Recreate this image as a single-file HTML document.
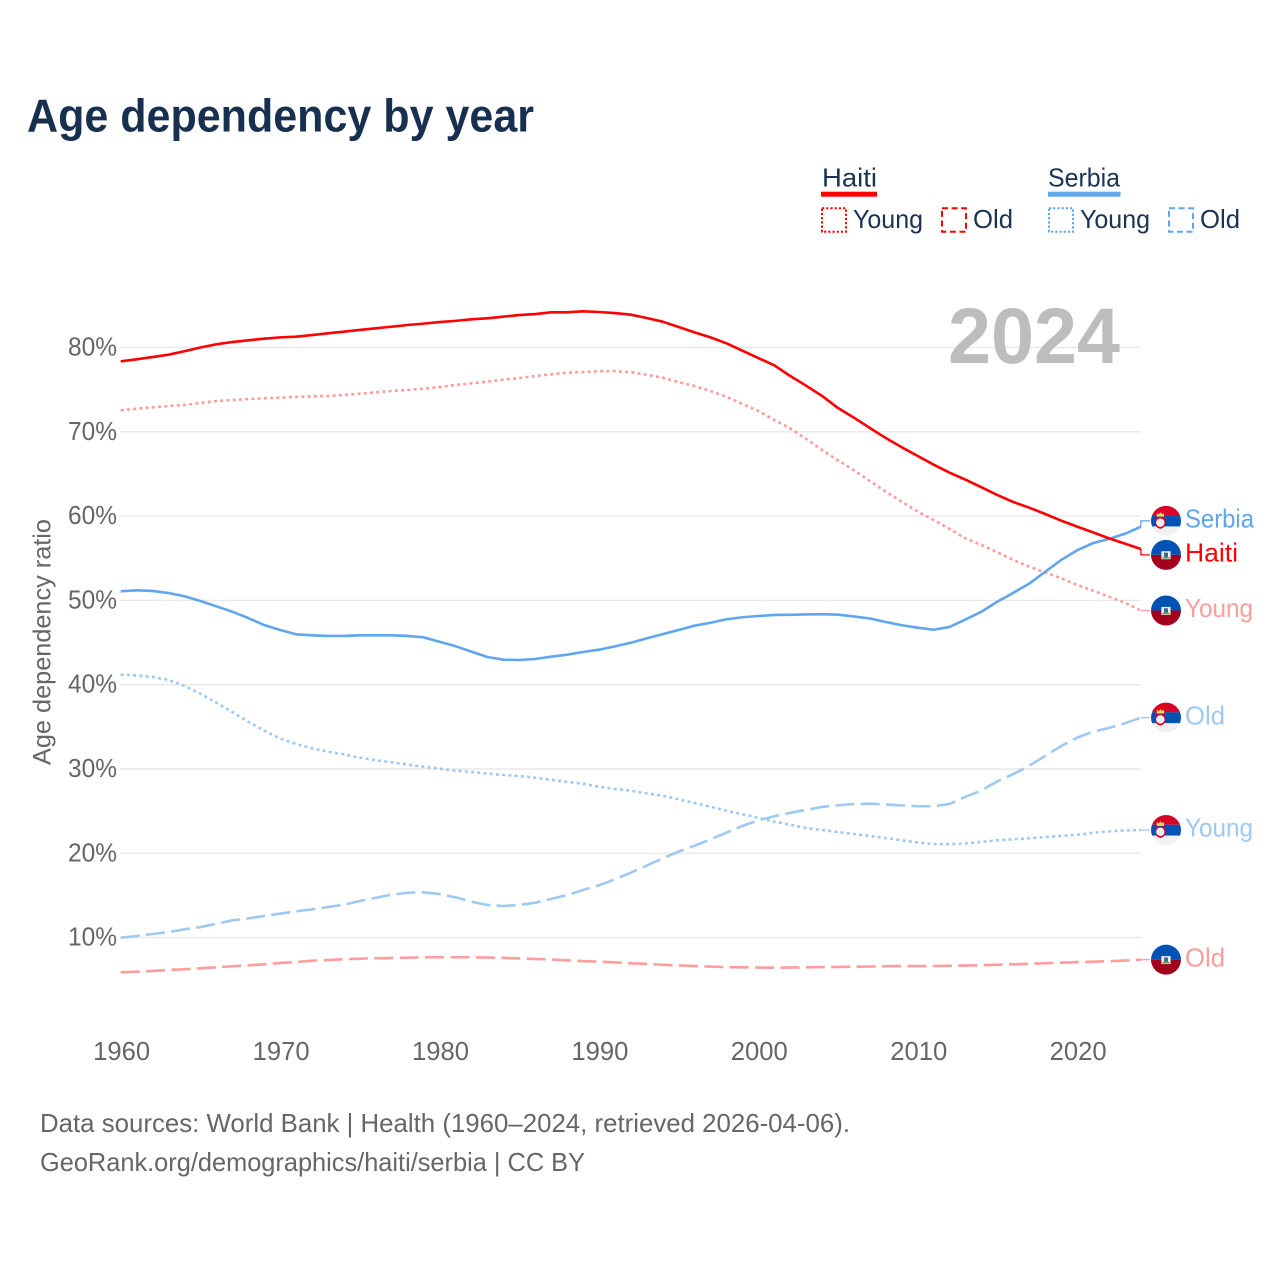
<!DOCTYPE html>
<html lang="en">
<head>
<meta charset="utf-8">
<title>Age dependency by year</title>
<style>
html,body{margin:0;padding:0;background:#fff;}
svg{display:block;font-family:"Liberation Sans",sans-serif;}
</style>
</head>
<body>
<svg id="chart" xmlns="http://www.w3.org/2000/svg" width="1280" height="1280" viewBox="0 0 1280 1280">
  <rect x="0" y="0" width="1280" height="1280" fill="#ffffff"/>
  <text x="27" y="131.5" font-size="46" font-weight="700" fill="#17304f" textLength="507" lengthAdjust="spacingAndGlyphs">Age dependency by year</text>

  <g fill="#1a3352" font-size="26">
    <text x="822" y="186.5" textLength="55" lengthAdjust="spacingAndGlyphs">Haiti</text>
    <rect x="821" y="191.7" width="56" height="5" fill="#ff0000"/>
    <rect x="822" y="208.3" width="24" height="23.5" fill="none" stroke="#ff0000" stroke-width="2" stroke-dasharray="2.2 2"/>
    <text x="853" y="228.2" textLength="70" lengthAdjust="spacingAndGlyphs">Young</text>
    <rect x="942" y="208.3" width="24" height="23.5" fill="none" stroke="#ff0000" stroke-width="2" stroke-dasharray="6 3.6"/>
    <text x="973" y="228.2" textLength="40" lengthAdjust="spacingAndGlyphs">Old</text>
    <text x="1048" y="186.5" textLength="72" lengthAdjust="spacingAndGlyphs">Serbia</text>
    <rect x="1048" y="191.7" width="72.5" height="5" fill="#5fa6ee"/>
    <rect x="1049" y="208.3" width="24" height="23.5" fill="none" stroke="#5fa6ee" stroke-width="2" stroke-dasharray="2.2 2"/>
    <text x="1080" y="228.2" textLength="70" lengthAdjust="spacingAndGlyphs">Young</text>
    <rect x="1169" y="208.3" width="24" height="23.5" fill="none" stroke="#5fa6ee" stroke-width="2" stroke-dasharray="6 3.6"/>
    <text x="1200" y="228.2" textLength="40" lengthAdjust="spacingAndGlyphs">Old</text>
  </g>

  <g id="grid"></g>
  <g id="yticks"></g>
  <g id="xticks"></g>

  <text x="948" y="363" font-size="79" font-weight="700" fill="#bdbdbd" textLength="172" lengthAdjust="spacingAndGlyphs">2024</text>

  <text transform="translate(50.5,642) rotate(-90)" text-anchor="middle" font-size="25" fill="#666666" textLength="246" lengthAdjust="spacingAndGlyphs">Age dependency ratio</text>

  <g id="series"></g>
  <g id="labels"></g>

  <text x="40" y="1132.2" font-size="26" fill="#666666" textLength="810" lengthAdjust="spacingAndGlyphs">Data sources: World Bank | Health (1960–2024, retrieved 2026-04-06).</text>
  <text x="40" y="1171.2" font-size="26" fill="#666666" textLength="545" lengthAdjust="spacingAndGlyphs">GeoRank.org/demographics/haiti/serbia | CC BY</text>
</svg>

<script>
const years = [1960,1961,1962,1963,1964,1965,1966,1967,1968,1969,
  1970,1971,1972,1973,1974,1975,1976,1977,1978,1979,
  1980,1981,1982,1983,1984,1985,1986,1987,1988,1989,
  1990,1991,1992,1993,1994,1995,1996,1997,1998,1999,
  2000,2001,2002,2003,2004,2005,2006,2007,2008,2009,
  2010,2011,2012,2013,2014,2015,2016,2017,2018,2019,
  2020,2021,2022,2023,2024];

const haitiTotal = [78.36,78.6,78.87,79.15,79.55,80.0,80.38,80.65,80.85,81.05,
  81.2,81.28,81.48,81.68,81.88,82.08,82.28,82.47,82.67,82.83,
  83.02,83.16,83.34,83.46,83.66,83.85,83.97,84.17,84.17,84.29,
  84.21,84.09,83.89,83.5,83.06,82.43,81.8,81.2,80.5,79.62,
  78.75,77.89,76.62,75.47,74.25,72.82,71.67,70.45,69.26,68.16,
  67.13,66.1,65.15,64.32,63.41,62.5,61.67,61.0,60.25,59.46,
  58.75,58.07,57.36,56.73,56.1];

const haitiYoung = [72.55,72.74,72.9,73.06,73.18,73.42,73.65,73.77,73.89,73.97,
  74.05,74.13,74.2,74.25,74.37,74.52,74.68,74.84,74.96,75.11,
  75.31,75.55,75.75,75.94,76.18,76.38,76.62,76.82,77.01,77.09,
  77.18,77.2,77.06,76.77,76.42,75.9,75.43,74.84,74.16,73.3,
  72.47,71.4,70.4,69.15,67.84,66.61,65.43,64.16,62.9,61.71,
  60.53,59.54,58.47,57.36,56.57,55.7,54.79,54.0,53.29,52.62,
  51.83,51.15,50.44,49.73,48.8];

const haitiOld = [5.88,5.96,6.04,6.16,6.24,6.36,6.48,6.6,6.71,6.83,
  6.99,7.1,7.26,7.34,7.43,7.5,7.55,7.58,7.62,7.67,
  7.67,7.67,7.67,7.63,7.6,7.53,7.46,7.4,7.3,7.22,
  7.15,7.05,6.95,6.88,6.78,6.7,6.62,6.56,6.5,6.47,
  6.44,6.43,6.44,6.47,6.5,6.52,6.55,6.57,6.6,6.62,
  6.63,6.63,6.65,6.68,6.72,6.78,6.83,6.9,6.97,7.03,
  7.1,7.14,7.2,7.28,7.38];

const serbiaTotal = [51.08,51.2,51.12,50.88,50.49,49.93,49.3,48.66,47.91,47.08,
  46.49,45.98,45.86,45.78,45.78,45.86,45.86,45.86,45.78,45.62,
  45.1,44.57,43.92,43.29,42.97,42.93,43.05,43.32,43.56,43.88,
  44.15,44.55,44.98,45.5,46.0,46.49,47.0,47.35,47.76,48.0,
  48.15,48.27,48.29,48.33,48.36,48.3,48.1,47.85,47.44,47.05,
  46.76,46.52,46.85,47.74,48.66,49.85,50.9,52.0,53.4,54.8,
  55.94,56.8,57.3,57.9,58.74];

const serbiaYoung = [41.19,41.1,40.92,40.56,39.85,38.93,37.87,36.76,35.6,34.55,
  33.6,32.97,32.45,32.05,31.74,31.34,31.03,30.8,30.51,30.27,
  30.04,29.8,29.65,29.45,29.3,29.17,28.97,28.73,28.46,28.26,
  27.9,27.63,27.43,27.11,26.83,26.4,25.97,25.53,25.06,24.62,
  24.22,23.75,23.39,23,22.76,22.52,22.29,22.05,21.8,21.54,
  21.3,21.1,21.07,21.18,21.34,21.54,21.66,21.78,21.93,22.05,
  22.2,22.44,22.6,22.72,22.76];

const serbiaOld = [9.99,10.19,10.43,10.66,10.98,11.25,11.64,12.05,12.28,12.56,
  12.84,13.12,13.35,13.63,13.9,14.34,14.73,15.09,15.32,15.37,
  15.17,14.78,14.26,13.87,13.75,13.87,14.14,14.58,15.05,15.65,
  16.2,16.91,17.7,18.55,19.4,20.2,20.9,21.65,22.45,23.25,
  23.9,24.4,24.8,25.15,25.5,25.7,25.85,25.88,25.78,25.68,
  25.58,25.58,25.85,26.7,27.47,28.54,29.4,30.4,31.55,32.73,
  33.72,34.43,34.87,35.42,36.09];

const yTickValues = [10,20,30,40,50,60,70,80];
const yTickLabels = ["10%","20%","30%","40%","50%","60%","70%","80%"];
const xTickValues = [1960,1970,1980,1990,2000,2010,2020];
const xTickLabels = ["1960","1970","1980","1990","2000","2010","2020"];

const NS = "http://www.w3.org/2000/svg";
const FIRST_YEAR = 1960, LAST_YEAR = 2024;
const LEFT = 120.7, RIGHT = 1140.9, Y80 = 347.5, PX_PER_UNIT = 8.43;
const MIN_LABEL_GAP = 34;

function xScale(year) { return LEFT + (year - FIRST_YEAR) * (RIGHT - LEFT) / (LAST_YEAR - FIRST_YEAR); }
function yScale(value) { return Y80 + (80 - value) * PX_PER_UNIT; }

function make(tag, attrs, parent) {
  const el = document.createElementNS(NS, tag);
  for (const k in attrs) el.setAttribute(k, attrs[k]);
  parent.appendChild(el);
  return el;
}

const RED = "#ff0000", RED_LIGHT = "#ff9c9c", BLUE = "#5fa6ee", BLUE_LIGHT = "#a0c9f2";
const DOT = "3 3.25", DASH = "19 6.4";

const seriesList = [
  {id:"serbia-total", values:serbiaTotal, color:BLUE, dash:null, label:"Serbia", w:69, flag:"serbia"},
  {id:"haiti-total", values:haitiTotal, color:RED, dash:null, label:"Haiti", w:53, flag:"haiti"},
  {id:"haiti-young", values:haitiYoung, color:RED_LIGHT, dash:DOT, label:"Young", w:68, flag:"haiti"},
  {id:"serbia-old", values:serbiaOld, color:BLUE_LIGHT, dash:DASH, label:"Old", w:40, flag:"serbia"},
  {id:"serbia-young", values:serbiaYoung, color:BLUE_LIGHT, dash:DOT, label:"Young", w:68, flag:"serbia"},
  {id:"haiti-old", values:haitiOld, color:RED_LIGHT, dash:DASH, label:"Old", w:40, flag:"haiti"}
];

/* gridlines and y ticks */
const gridG = document.getElementById("grid");
const yG = document.getElementById("yticks");
yTickValues.forEach(function (v, i) {
  const line = make("line", {x1:120, x2:1140.9, y1:yScale(v), y2:yScale(v), stroke:"#e8e8e8", "stroke-width":1.4}, gridG);
  
  
  const t = make("text", {x:117, y:yScale(v) + 8, "text-anchor":"end", "font-size":25.5, fill:"#666666", textLength:49, lengthAdjust:"spacingAndGlyphs"}, yG);
  
  
  t.textContent = yTickLabels[i];
});

/* x ticks */
const xG = document.getElementById("xticks");
xTickValues.forEach(function (yr, i) {
  const t = make("text", {x:xScale(yr) + 1, y:1060, "text-anchor":"middle", "font-size":25.5, fill:"#666666", textLength:57, lengthAdjust:"spacingAndGlyphs"}, xG);
  
  
  t.textContent = xTickLabels[i];
});

/* label collision avoidance */
const placed = seriesList.map(function (s) {
  const endY = yScale(s.values[s.values.length - 1]);
  return {s:s, endY:endY, labelY:endY};
}).sort(function (a, b) { return a.endY - b.endY; });
for (let i = 1; i < placed.length; i++) {
  const a = placed[i - 1], b = placed[i];
  if (b.labelY - a.labelY < MIN_LABEL_GAP) {
    const mid = (a.labelY + b.labelY) / 2;
    a.labelY = mid - MIN_LABEL_GAP / 2;
    b.labelY = mid + MIN_LABEL_GAP / 2;
  }
}

/* series lines */
const seriesG = document.getElementById("series");
const drawOrder = ["haiti-old","serbia-old","serbia-young","haiti-young","serbia-total","haiti-total"];
drawOrder.forEach(function (id) {
  const s = seriesList.filter(function (d) { return d.id === id; })[0];
  const pts = s.values.map(function (v, i) { return xScale(years[i]).toFixed(2) + "," + yScale(v).toFixed(2); }).join(" ");
  const attrs = {points:pts, fill:"none", stroke:s.color, "stroke-width":2.6, "stroke-linejoin":"round"};
  if (s.dash) attrs["stroke-dasharray"] = s.dash;
  const line = make("polyline", attrs, seriesG);
  
  
});

/* flags */
function drawFlag(kind, cx, cy, parent, index) {
  const g = make("g", {transform:"translate(" + cx + "," + cy + ")"}, parent);
  
  
  const clipId = "flag-clip-" + index;
  const clip = make("clipPath", {id:clipId}, g);
  make("circle", {cx:0, cy:0, r:15}, clip);
  const body = make("g", {"clip-path":"url(#" + clipId + ")"}, g);
  if (kind === "serbia") {
    make("rect", {x:-16, y:-16, width:32, height:10.7, fill:"#d80027"}, body);
    make("rect", {x:-16, y:-5.3, width:32, height:10.9, fill:"#0052b4"}, body);
    make("rect", {x:-16, y:5.6, width:32, height:10.4, fill:"#f0f0f0"}, body);
    make("path", {d:"M-9.2,-4.2 L-9.2,-8 L-7.3,-6.6 L-5.6,-8.6 L-3.9,-6.6 L-2,-8 L-2,-4.2 Z", fill:"#ffda44"}, body);
    make("path", {d:"M-10.7,-3.4 H-0.7 V2.6 Q-0.7,6.8 -5.7,8 Q-10.7,6.8 -10.7,2.6 Z", fill:"#d80027"}, body);
    make("circle", {cx:-5.7, cy:1.8, r:4.2, fill:"#f0f0f0"}, body);
  } else {
    make("rect", {x:-16, y:-16, width:32, height:16, fill:"#0052b4"}, body);
    make("rect", {x:-16, y:0, width:32, height:16, fill:"#a2001d"}, body);
    make("rect", {x:-4.6, y:-3.6, width:9.2, height:8, fill:"#f0f0f0"}, body);
    make("rect", {x:-2, y:-2.2, width:4, height:4.4, fill:"#2f6f8f"}, body);
    make("rect", {x:-3.6, y:2.2, width:7.2, height:1.6, fill:"#6da544"}, body);
  }
}

/* connectors, flags, end labels */
const labelsG = document.getElementById("labels");
placed.forEach(function (p, i) {
  const c = make("polyline", {points:RIGHT + "," + p.endY.toFixed(2) + " " + RIGHT + "," + p.labelY.toFixed(2) + " 1150," + p.labelY.toFixed(2), fill:"none", stroke:p.s.color, "stroke-width":1.3}, labelsG);
  
  
  drawFlag(p.s.flag, 1166, p.labelY, labelsG, i);
  const t = make("text", {x:1185, y:p.labelY + 6.7, "font-size":26, fill:p.s.color, textLength:p.s.w, lengthAdjust:"spacingAndGlyphs"}, labelsG);
  
  
  t.textContent = p.s.label;
});
</script>
</body>
</html>
